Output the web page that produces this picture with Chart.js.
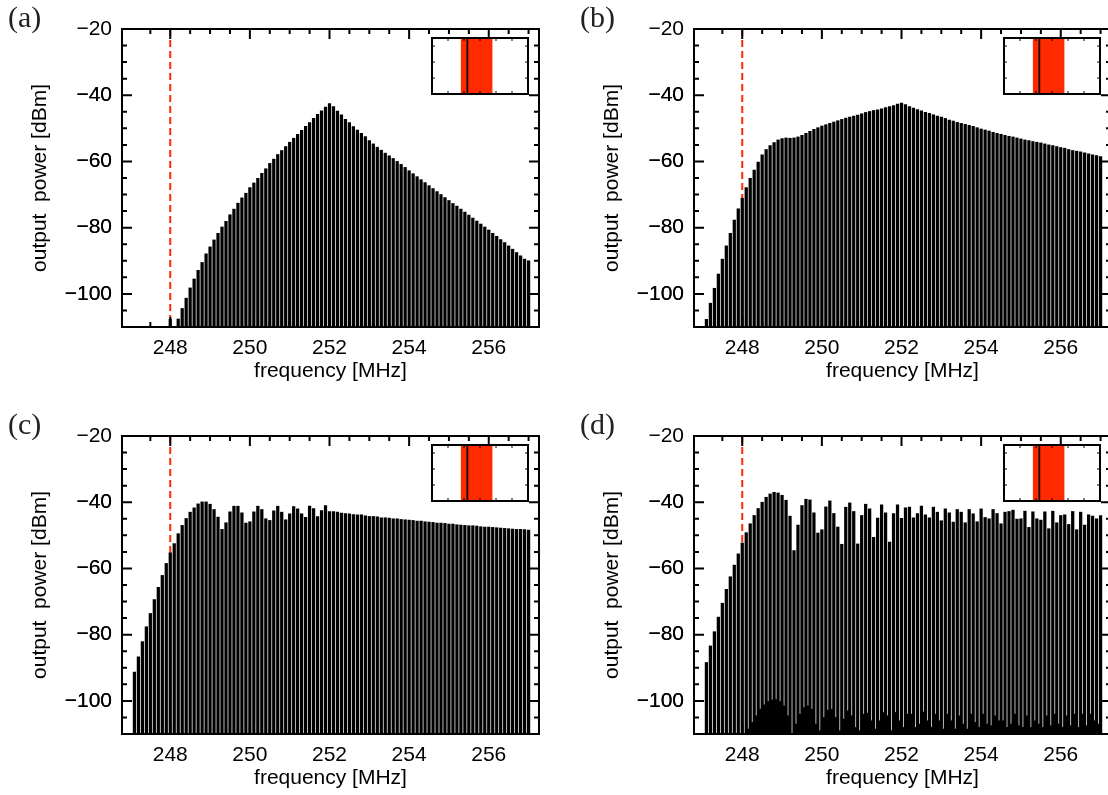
<!DOCTYPE html>
<html>
<head>
<meta charset="utf-8">
<script src="https://cdn.jsdelivr.net/npm/chart.js@4/dist/chart.umd.min.js"></script>
<style>
  html, body { margin: 0; padding: 0; background: #fff; overflow: hidden; width: 1108px; height: 795px; }
  .panel { position: absolute; width: 560px; height: 400px; }
  .panel > canvas { position: absolute; left: 0; top: 0; }
  .panel > canvas.inset { left: 430px; top: 36px; }
  .tag { position: absolute; left: 8px; top: 2px; font: 30px "Liberation Serif", serif; line-height: 30px; color: #222; }
</style>
</head>
<body>
<div class="panel" style="left:0;top:0"><canvas id="c-a" width="560" height="400"></canvas><canvas class="inset" id="i-a" width="100" height="60"></canvas><div class="tag">(a)</div></div>
<div class="panel" style="left:572px;top:0"><canvas id="c-b" width="560" height="400"></canvas><canvas class="inset" id="i-b" width="100" height="60"></canvas><div class="tag">(b)</div></div>
<div class="panel" style="left:0;top:407px"><canvas id="c-c" width="560" height="400"></canvas><canvas class="inset" id="i-c" width="100" height="60"></canvas><div class="tag">(c)</div></div>
<div class="panel" style="left:572px;top:407px"><canvas id="c-d" width="560" height="400"></canvas><canvas class="inset" id="i-d" width="100" height="60"></canvas><div class="tag">(d)</div></div>

<script>
// frequency grid of the spectrum analyser, 247.0 .. 257.0 MHz in 0.1 MHz bins
var freqs = [];
for (var i = 0; i <= 100; i++) freqs.push(+(247 + i * 0.1).toFixed(1));

var xTicks = [247.5, 248, 248.5, 249, 249.5, 250, 250.5, 251, 251.5, 252, 252.5, 253, 253.5, 254, 254.5, 255, 255.5, 256, 256.5, 257];
var xLabels = [248, 250, 252, 254, 256];
var yTicks = [-105, -100, -95, -90, -85, -80, -75, -70, -65, -60, -55, -50, -45, -40, -35, -30, -25];
var yLabels = [-20, -40, -60, -80, -100];
var markerFreq = 248.0;

// output power [dBm] per bin (null = nothing above the floor)
var powerA = [
  null, null, null, null, null, null, null, null, null, null,
  -107.7, null, -107.6, -104.4, -101.3, -98.2, -95.5, -92.9, -90.5, -87.9,
  -85.8, -83.7, -81.7, -79.8, -78.1, -76.1, -74.4, -72.6, -71.0, -69.6,
  -67.9, -66.5, -65.1, -63.6, -62.2, -60.6, -59.3, -57.9, -56.7, -55.5,
  -54.2, -53.0, -51.8, -50.6, -49.4, -48.3, -47.0, -45.8, -44.7, -43.6,
  -42.5, -43.4, -44.8, -45.9, -47.3, -48.3, -49.5, -50.5, -51.5, -52.5,
  -53.7, -54.7, -55.7, -56.6, -57.5, -58.3, -59.1, -60.0, -60.9, -61.8,
  -62.8, -63.7, -64.6, -65.5, -66.4, -67.3, -68.2, -69.1, -70.0, -70.9,
  -71.8, -72.7, -73.5, -74.4, -75.3, -76.2, -77.1, -78.0, -78.9, -79.8,
  -80.7, -81.7, -82.6, -83.6, -84.5, -85.5, -86.5, -87.5, -88.5, -89.5,
  -90.0
];
var powerB = [
  null, -107.7, -102.8, -98.3, -94.0, -89.5, -85.5, -81.7, -77.7, -74.3,
  -71.1, -67.9, -65.1, -62.6, -60.2, -58.0, -56.4, -55.2, -54.3, -53.5,
  -53.1, -52.9, -53.0, -52.9, -52.6, -52.1, -51.5, -50.9, -50.3, -49.8,
  -49.3, -48.9, -48.5, -48.1, -47.7, -47.3, -46.9, -46.6, -46.3, -46.0,
  -45.6, -45.2, -44.9, -44.6, -44.4, -44.1, -43.7, -43.4, -43.1, -42.7,
  -42.4, -42.8, -43.4, -43.9, -44.3, -44.7, -45.2, -45.5, -45.9, -46.3,
  -46.6, -47.0, -47.5, -47.8, -48.2, -48.5, -48.8, -49.1, -49.4, -49.8,
  -50.2, -50.5, -50.8, -51.2, -51.5, -51.8, -52.1, -52.4, -52.6, -52.9,
  -53.2, -53.5, -53.7, -54.0, -54.2, -54.4, -54.7, -55.0, -55.2, -55.5,
  -55.8, -56.0, -56.4, -56.7, -56.9, -57.1, -57.4, -57.7, -58.0, -58.2,
  -58.5
];
var powerC = [
  null, -91.3, -86.7, -82.1, -77.6, -73.6, -69.4, -65.7, -62.1, -58.5,
  -55.3, -52.5, -49.5, -47.0, -44.9, -43.0, -41.7, -40.5, -39.9, -39.9,
  -40.6, -42.2, -44.5, -48.2, -46.2, -42.9, -41.2, -41.2, -43.2, -46.3,
  -45.9, -42.9, -41.2, -42.2, -45.0, -45.5, -42.6, -41.2, -43.0, -45.3,
  -43.5, -41.3, -42.0, -43.5, -44.6, -41.2, -41.9, -44.3, -42.5, -41.0,
  -42.8, -42.8, -43.0, -43.3, -43.4, -43.5, -43.7, -43.8, -43.8, -44.1,
  -44.3, -44.3, -44.4, -44.7, -44.7, -44.8, -45.0, -45.0, -45.2, -45.3,
  -45.4, -45.5, -45.7, -45.7, -45.9, -46.0, -46.1, -46.3, -46.3, -46.4,
  -46.6, -46.6, -46.8, -46.9, -47.0, -47.1, -47.1, -47.2, -47.4, -47.5,
  -47.5, -47.6, -47.7, -47.8, -47.9, -48.0, -48.1, -48.2, -48.2, -48.3,
  -48.4
];
var powerD = [
  null, -88.4, -83.4, -79.1, -74.7, -70.5, -66.3, -62.5, -59.0, -55.6,
  -52.3, -49.2, -46.5, -44.0, -41.9, -40.0, -38.5, -37.5, -37.0, -37.2,
  -37.9, -39.4, -44.2, -54.6, -46.9, -41.0, -39.1, -39.3, -43.2, -49.3,
  -48.3, -41.4, -39.6, -43.4, -47.5, -52.7, -41.5, -40.2, -42.8, -52.6,
  -44.0, -40.6, -42.0, -50.6, -44.8, -40.8, -43.2, -52.0, -43.4, -40.8,
  -44.9, -41.7, -41.5, -44.7, -43.4, -41.2, -43.8, -44.7, -41.5, -43.0,
  -45.6, -42.0, -43.2, -46.0, -42.2, -43.0, -46.2, -42.2, -43.5, -45.9,
  -42.0, -44.6, -45.0, -42.2, -43.4, -46.5, -43.0, -42.8, -42.4, -45.1,
  -45.0, -42.7, -47.6, -42.9, -45.0, -45.4, -42.9, -48.0, -42.7, -46.2,
  -44.0, -43.8, -46.7, -42.8, -48.3, -43.0, -46.9, -43.8, -44.2, -45.0,
  -44.0
];
// weak intermediate lines in (d), half a bin above each grid frequency
var sideOffset = 0.05;
var sideD = [
  null, null, null, null, null, null, null, null, null, null,
  null, -108.5, -106.5, -104.5, -102.5, -101.2, -100.2, -99.7, -99.6, -100.2,
  -101.5, -104.5, null, -107.0, -104.0, -102.0, -101.5, -102.5, -107.0, -109.0,
  -105.0, -102.8, -102.5, -105.0, -109.0, -105.5, -103.0, -104.5, -108.0, -109.0,
  -104.0, -103.7, -106.0, -108.5, -106.0, -103.5, -104.5, -109.0, -103.5, -106.0,
  -108.0, -104.0, -104.0, -108.0, -107.0, -103.3, -106.0, -108.0, -104.0, -106.0,
  -108.5, -104.0, -106.0, -108.5, -104.5, -107.0, -108.5, -104.0, -106.5, -108.0,
  -104.0, -107.0, -107.5, -104.5, -106.0, -106.0, -108.0, -107.0, -104.0, -107.5,
  -108.0, -104.5, -108.0, -106.0, -107.0, -108.0, -104.5, -107.5, -104.0, -107.0,
  -108.0, -104.5, -107.5, -104.0, -108.0, -104.0, -107.5, -104.0, -106.0, -107.0,
  null
];

// inset: pump band and line position
var insetXTicks = [1, 2, 3, 4, 5];
var insetYTicks = [1, 2, 3];
var insetBand = [1.79, 3.79];
var insetLine = 2.21;

var X_MIN = 247.05, X_MAX = 257.0, Y_MIN = -110, Y_MAX = -20;
var RED = '#ff2a00';
Chart.defaults.font.family = '"Liberation Sans", Arial, sans-serif';
Chart.defaults.color = '#000';

function isMult(v, step) { return Math.abs(v / step - Math.round(v / step)) < 1e-6; }
function minusLabel(v) { return v < 0 ? '\u2212' + Math.abs(v) : String(v); }

var framePlugin = {
  id: 'frame',
  beforeDatasetsDraw: function (chart, args, o) {
    var ctx = chart.ctx, a = chart.chartArea;
    if (o.fill) { ctx.save(); ctx.fillStyle = '#fff'; ctx.fillRect(a.left, a.top, a.width, a.height); ctx.restore(); }
    if (o.marker === undefined || o.marker === null) return;
    var px = chart.scales.x.getPixelForValue(o.marker);
    ctx.save();
    ctx.strokeStyle = RED; ctx.lineWidth = 2; ctx.setLineDash([7, 4]);
    ctx.beginPath(); ctx.moveTo(px, a.top); ctx.lineTo(px, a.bottom); ctx.stroke();
    ctx.restore();
  },
  afterDatasetsDraw: function (chart, args, o) {
    var ctx = chart.ctx, a = chart.chartArea, sx = chart.scales.x, sy = chart.scales.y;
    ctx.save();
    ctx.strokeStyle = '#000'; ctx.lineWidth = o.tickWidth;
    ctx.beginPath();
    sx.ticks.forEach(function (t) {
      var len = isMult(t.value, o.majorX) ? o.major : o.minor;
      var p = sx.getPixelForValue(t.value);
      ctx.moveTo(p, a.bottom); ctx.lineTo(p, a.bottom - len);
      ctx.moveTo(p, a.top); ctx.lineTo(p, a.top + len);
    });
    sy.ticks.forEach(function (t) {
      var len = isMult(t.value, o.majorY) ? o.major : o.minor;
      var p = sy.getPixelForValue(t.value);
      ctx.moveTo(a.left, p); ctx.lineTo(a.left + len, p);
      ctx.moveTo(a.right, p); ctx.lineTo(a.right - len, p);
    });
    ctx.stroke();
    ctx.lineWidth = o.frameWidth;
    ctx.strokeRect(a.left, a.top, a.width, a.height);
    ctx.restore();
  }
};

function points(vals, offset) {
  var out = [];
  vals.forEach(function (v, i) { if (v !== null) out.push({ x: +(freqs[i] + offset).toFixed(2), y: v }); });
  return out;
}

function spectrum(id, power, side) {
  var datasets = [{ data: points(power, 0), backgroundColor: '#000', base: Y_MIN, barThickness: 2.6, grouped: false }];
  if (side) datasets.push({ data: points(side, sideOffset), backgroundColor: '#000', base: Y_MIN, barThickness: 2.4, grouped: false });
  new Chart(document.getElementById(id), {
    type: 'bar',
    data: { datasets: datasets },
    plugins: [framePlugin],
    options: {
      responsive: false,
      animation: false,
      layout: { padding: { left: 0, right: 21, top: 29, bottom: 0 } },
      plugins: {
        legend: { display: false },
        tooltip: { enabled: false },
        frame: { marker: markerFreq, majorX: 2, majorY: 20, major: 10, minor: 5, tickWidth: 2, frameWidth: 2 }
      },
      scales: {
        x: {
          type: 'linear', min: X_MIN, max: X_MAX,
          grid: { display: false, drawTicks: false }, border: { display: false },
          afterBuildTicks: function (s) { s.ticks = xTicks.map(function (v) { return { value: v }; }); },
          afterFit: function (s) { s.height = 73; },
          ticks: {
            autoSkip: false, maxRotation: 0, padding: 9, font: { size: 21 },
            callback: function (v) { return xLabels.indexOf(v) >= 0 ? String(v) : ''; }
          },
          title: { display: true, text: 'frequency [MHz]', font: { size: 21 }, padding: { top: 0, bottom: 16 } }
        },
        y: {
          type: 'linear', min: Y_MIN, max: Y_MAX,
          grid: { display: false, drawTicks: false }, border: { display: false },
          afterBuildTicks: function (s) { s.ticks = yLabels.concat(yTicks).map(function (v) { return { value: v }; }); },
          afterFit: function (s) { s.width = 122; },
          ticks: {
            autoSkip: false, padding: 10, font: { size: 21 },
            callback: function (v) { return yLabels.indexOf(v) >= 0 ? minusLabel(v) : ''; }
          },
          title: { display: true, text: 'output  power [dBm]', font: { size: 21 }, padding: { top: 28, bottom: 0 } }
        }
      }
    }
  });
}

function inset(id) {
  new Chart(document.getElementById(id), {
    type: 'line',
    data: {
      datasets: [
        // the line is dataset 0 so that it is drawn last, over the band
        { data: [{ x: insetLine, y: 0 }, { x: insetLine, y: 3.5 }], fill: false,
          borderColor: '#000', borderWidth: 1.7, pointRadius: 0 },
        { data: [{ x: insetBand[0], y: 3.5 }, { x: insetBand[1], y: 3.5 }], fill: 'start',
          backgroundColor: RED, borderWidth: 0, pointRadius: 0 }
      ]
    },
    plugins: [framePlugin],
    options: {
      responsive: false,
      animation: false,
      layout: { padding: 2 },
      plugins: {
        legend: { display: false },
        tooltip: { enabled: false },
        frame: { fill: true, majorX: 100, majorY: 100, major: 3, minor: 3, tickWidth: 1, frameWidth: 2 }
      },
      scales: {
        x: { type: 'linear', min: 0, max: 6, display: false,
             afterBuildTicks: function (s) { s.ticks = insetXTicks.map(function (v) { return { value: v }; }); } },
        y: { type: 'linear', min: 0, max: 3.5, display: false,
             afterBuildTicks: function (s) { s.ticks = insetYTicks.map(function (v) { return { value: v }; }); } }
      }
    }
  });
}

spectrum('c-a', powerA);
spectrum('c-b', powerB);
spectrum('c-c', powerC);
spectrum('c-d', powerD, sideD);
['i-a', 'i-b', 'i-c', 'i-d'].forEach(inset);
</script>
</body>
</html>
